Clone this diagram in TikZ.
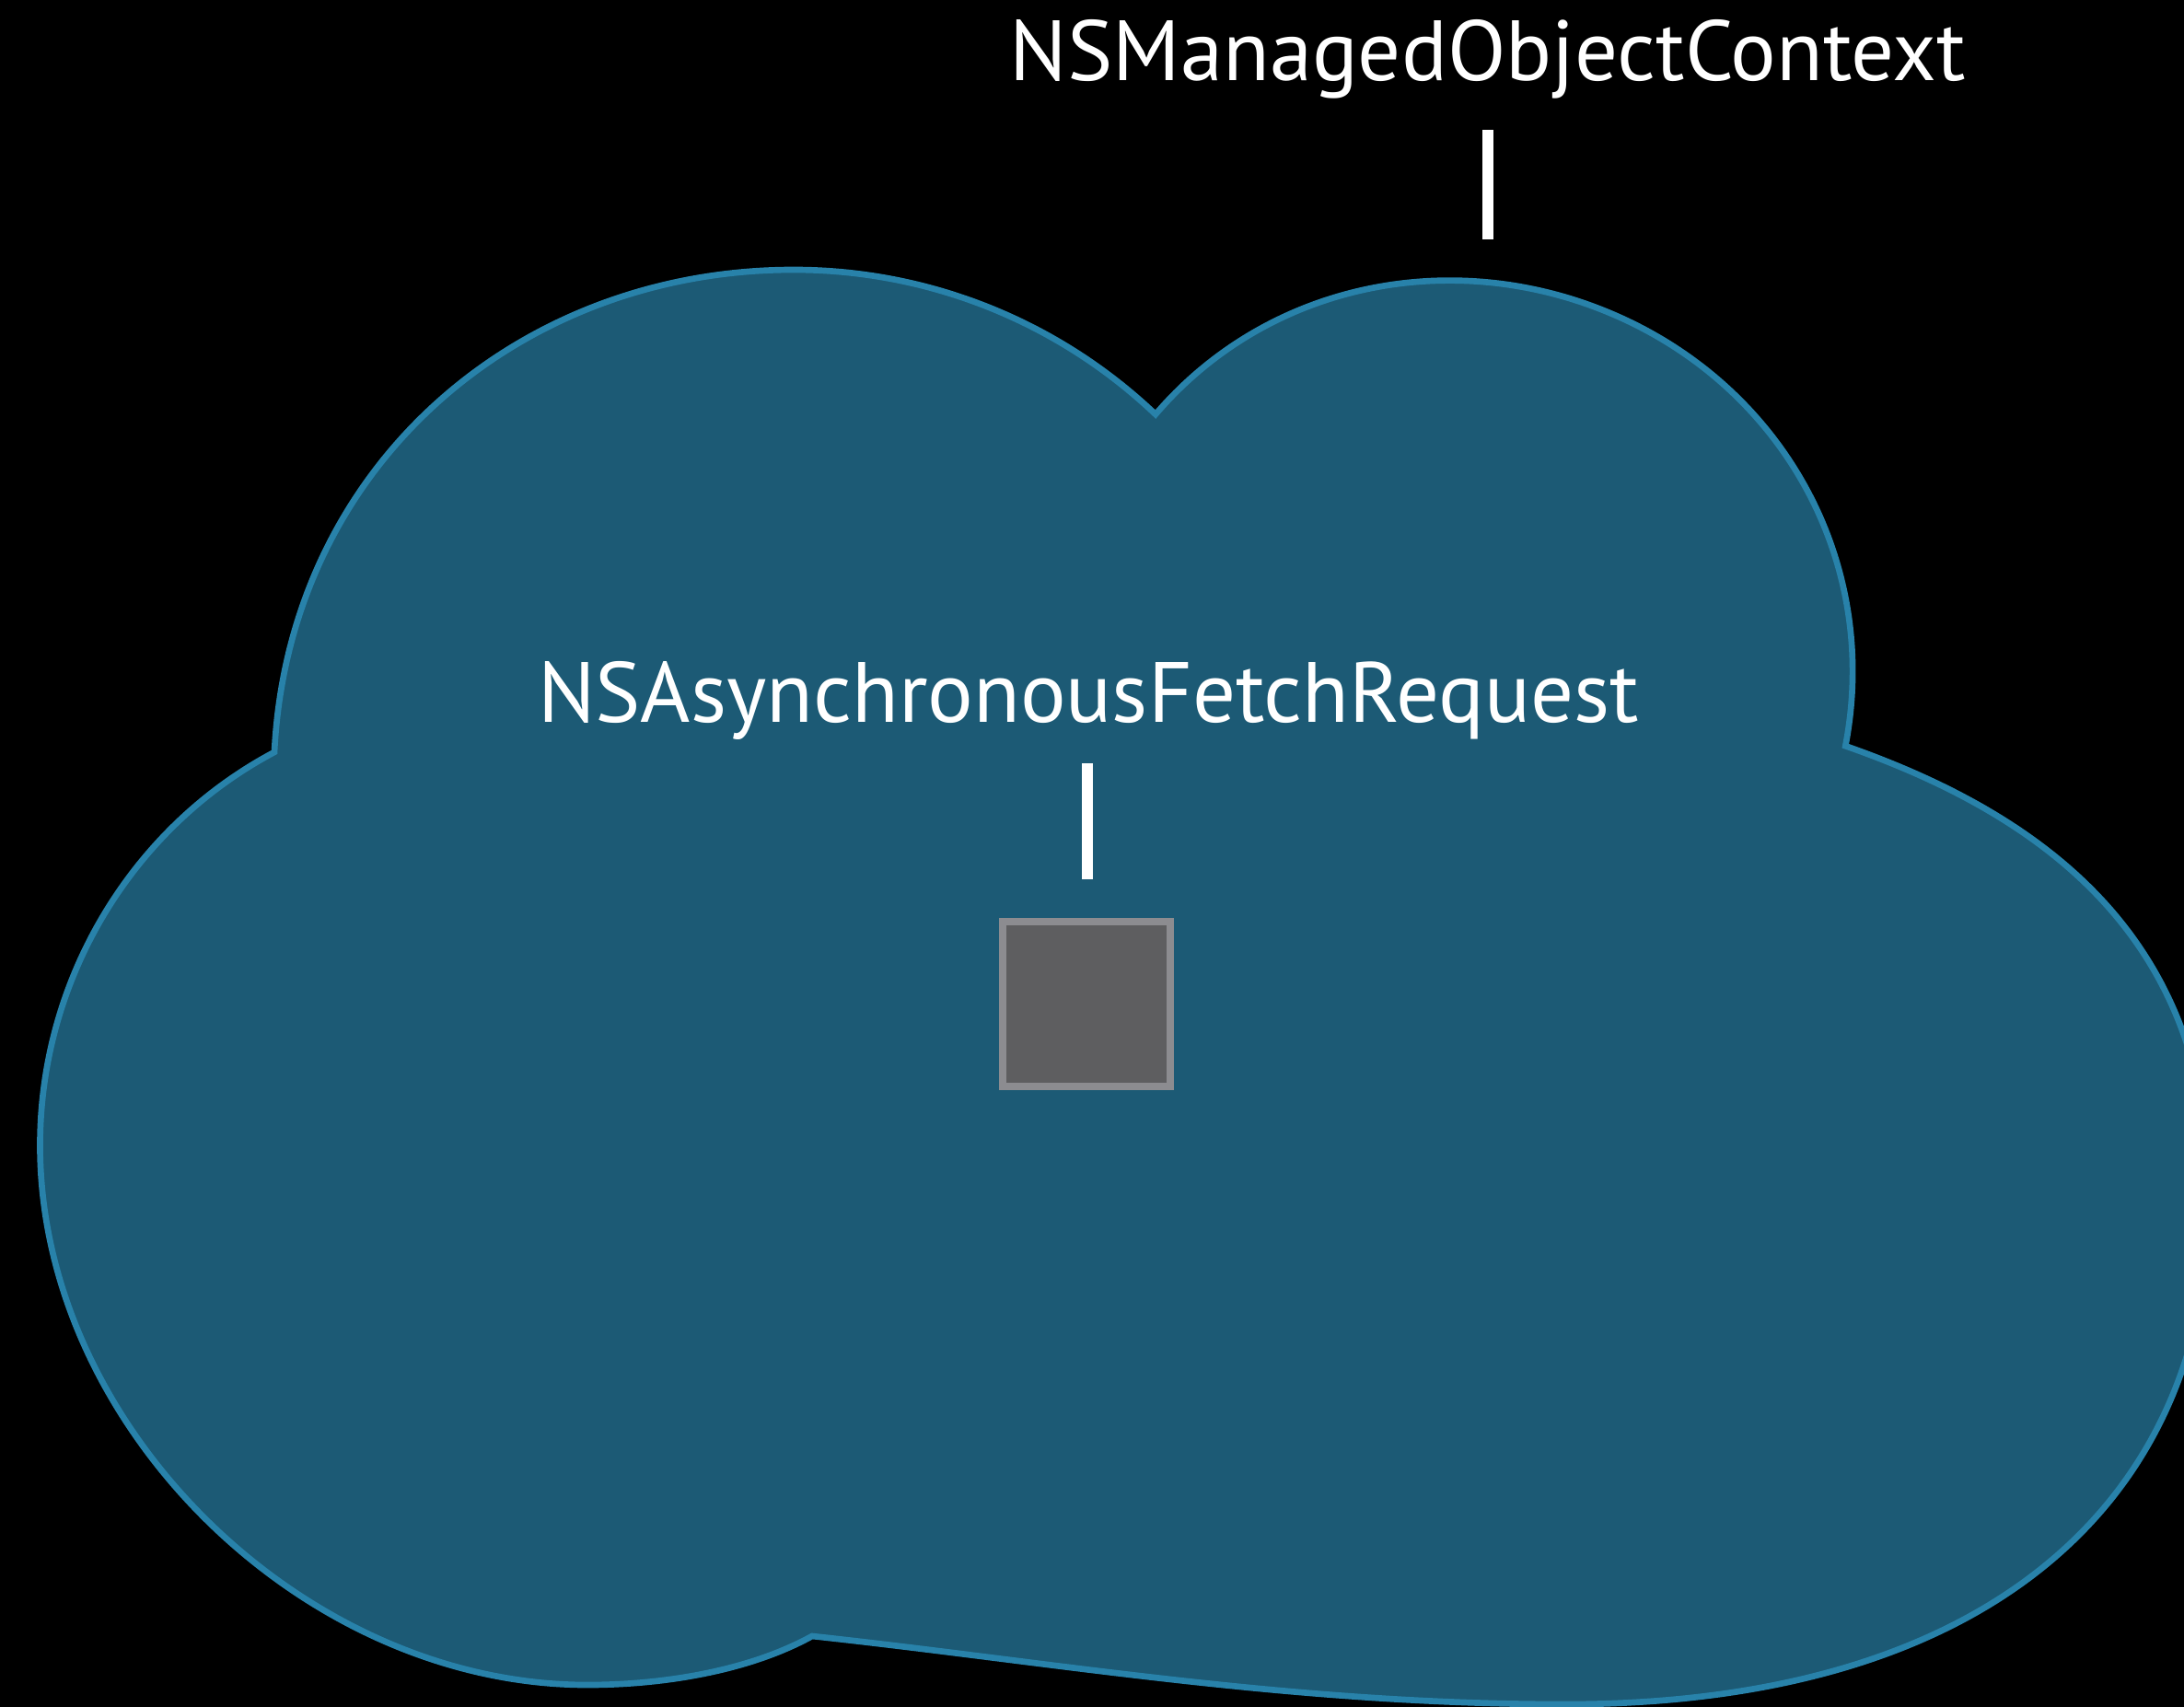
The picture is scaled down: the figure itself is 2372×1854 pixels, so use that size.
\documentclass[tikz,border=0pt]{standalone}
\usepackage{fontspec}
\setmainfont{PT Sans}
\definecolor{cloudfill}{HTML}{1C5A75}
\definecolor{cloudline}{HTML}{2882AA}
\definecolor{boxfill}{HTML}{5E5E60}
\definecolor{boxline}{HTML}{8C8C90}
\begin{document}
\begin{tikzpicture}[x=0.01cm,y=-0.01cm,
  lbl/.style={text=white,font=\fontsize{26.4}{30}\selectfont,inner sep=0pt,anchor=base},
  tick/.style={draw=white,line width=3.3pt},
  cloudshape/.style={fill=cloudfill,draw=cloudline,line width=1.9pt,line join=miter},
  reqbox/.style={draw=boxline,fill=boxfill,line width=2.3pt,minimum width=1.817cm,minimum height=1.787cm,inner sep=0pt}]
\fill[black] (0,0) rectangle (2372,1854);
\useasboundingbox (0,0) rectangle (2372,1854);
\clip (0,0) rectangle (2372,1854);
% cloud
\path[cloudshape] (298,816.9)
  .. controls (141.8,899.8) and (43.5,1065.3) .. (43.5,1244)
  .. controls (43.5,1549) and (329,1830) .. (638,1830)
  .. controls (718,1830) and (812,1815.6) .. (882,1777)
  .. controls (1140.4,1804.8) and (1400,1851) .. (1700,1851)
  .. controls (2160,1851) and (2400,1630) .. (2400,1300)
  .. controls (2400,1030) and (2235.6,891) .. (2004.3,810.2)
  .. controls (2041.2,618.6) and (1944.5,433) .. (1768.7,349)
  .. controls (1592.9,265) and (1382.3,301.1) .. (1255,450)
  .. controls (1148.8,349) and (1008.3,293) .. (862,293)
  .. controls (562,293) and (313.5,507) .. cycle;
% labels
\node[lbl] (ctx) at (1616,87) {NSManagedObjectContext};
\node[lbl] (req) at (1182,784) {NSAsynchronousFetchRequest};
\node[reqbox] (box) at (1180,1090.5) {};
\coordinate (ctxtop) at (1616,141);
\coordinate (ctxbot) at (1616,260);
\coordinate (reqtop) at (1181,829);
\coordinate (reqbot) at (1181,955);
\draw[tick] (ctxtop) -- (ctxbot);
\draw[tick] (reqtop) -- (reqbot);
\end{tikzpicture}
\end{document}
